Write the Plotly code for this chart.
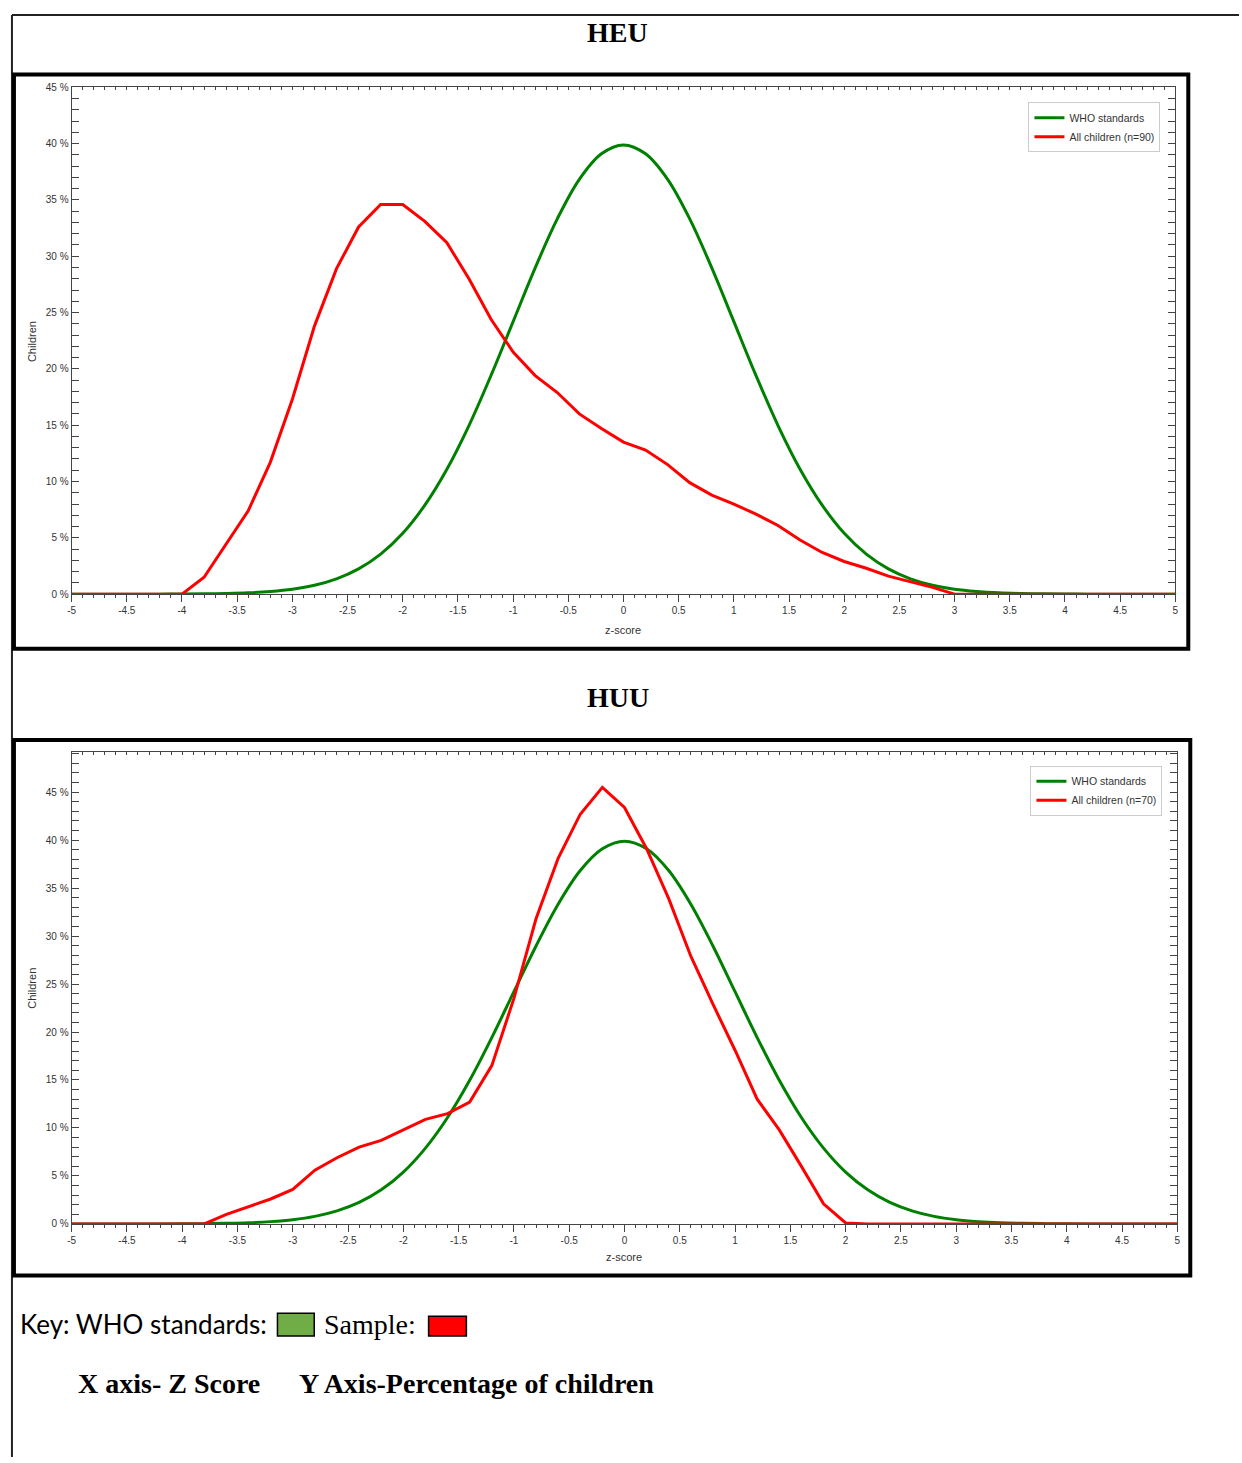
import plotly.graph_objects as go

W, H = 1242, 1463

# ---------------- data ----------------
z_who = [round(-5 + 0.2 * i, 1) for i in range(51)]
who_pct = [0, 0, 0, 0, 0, 0.01, 0.03, 0.06, 0.12, 0.24, 0.44, 0.79, 1.36, 2.24, 3.55, 5.40, 7.90,
           11.09, 14.97, 19.42, 24.20, 28.97, 33.32, 36.83, 39.10, 39.89, 39.10, 36.83, 33.32,
           28.97, 24.20, 19.42, 14.97, 11.09, 7.90, 5.40, 3.55, 2.24, 1.36, 0.79, 0.44, 0.24,
           0.12, 0.06, 0.03, 0.01, 0, 0, 0, 0, 0]

z_sample = [round(-5 + 0.2 * i, 1) for i in range(51)]
heu_pct = [0, 0, 0, 0, 0, 0, 1.5, 4.4, 7.4, 11.7, 17.3, 23.8, 28.9, 32.6, 34.6, 34.6, 33.1,
           31.2, 28.0, 24.4, 21.5, 19.4, 17.9, 16.0, 14.7, 13.5, 12.8, 11.5, 9.9, 8.8, 8.0, 7.1,
           6.1, 4.8, 3.7, 2.9, 2.3, 1.6, 1.1, 0.6, 0, 0, 0, 0, 0, 0, 0, 0, 0, 0, 0]
huu_pct = [0, 0, 0, 0, 0, 0, 0, 1.0, 1.8, 2.6, 3.6, 5.6, 6.9, 8.0, 8.7, 9.8, 10.9, 11.5, 12.7,
           16.5, 23.5, 31.8, 38.1, 42.7, 45.5, 43.4, 39.1, 33.9, 27.9, 22.9, 18.1, 13.0, 9.8,
           6.0, 2.1, 0.1, 0, 0, 0, 0, 0, 0, 0, 0, 0, 0, 0, 0, 0, 0, 0]

x_tickvals = [-5, -4.5, -4, -3.5, -3, -2.5, -2, -1.5, -1, -0.5, 0, 0.5, 1, 1.5, 2, 2.5, 3, 3.5, 4, 4.5, 5]
x_ticktext = ["-5", "-4.5", "-4", "-3.5", "-3", "-2.5", "-2", "-1.5", "-1", "-0.5", "0", "0.5",
              "1", "1.5", "2", "2.5", "3", "3.5", "4", "4.5", "5"]
y_tickvals = [0, 5, 10, 15, 20, 25, 30, 35, 40, 45]
y_ticktext = ["0 %", "5 %", "10 %", "15 %", "20 %", "25 %", "30 %", "35 %", "40 %", "45 %"]

GREEN = "#008000"
RED = "#ff0000"


def px(x):
    return x / W


def py(y):
    return 1 - y / H


fig = go.Figure()

# top panel (HEU)
fig.add_trace(go.Scatter(x=z_who, y=who_pct, mode="lines", name="WHO standards",
                         line=dict(color=GREEN, width=3, shape="spline"),
                         xaxis="x", yaxis="y", legend="legend"))
fig.add_trace(go.Scatter(x=z_sample, y=heu_pct, mode="lines", name="All children (n=90)",
                         line=dict(color=RED, width=3),
                         xaxis="x", yaxis="y", legend="legend"))
# bottom panel (HUU)
fig.add_trace(go.Scatter(x=z_who, y=who_pct, mode="lines", name="WHO standards",
                         line=dict(color=GREEN, width=3, shape="spline"),
                         xaxis="x2", yaxis="y2", legend="legend2"))
fig.add_trace(go.Scatter(x=z_sample, y=huu_pct, mode="lines", name="All children (n=70)",
                         line=dict(color=RED, width=3),
                         xaxis="x2", yaxis="y2", legend="legend2"))
# dummy traces for top tick axes
fig.add_trace(go.Scatter(x=[None], y=[None], xaxis="x3", yaxis="y", showlegend=False, hoverinfo="skip"))
fig.add_trace(go.Scatter(x=[None], y=[None], xaxis="x4", yaxis="y2", showlegend=False, hoverinfo="skip"))

tickfont = dict(family="Liberation Sans, Arial, sans-serif", size=10, color="#333333")
AX = "#444444"


def xaxis_cfg(dom, anchor):
    return dict(domain=dom, anchor=anchor, range=[-5, 5], tickmode="array",
                tickvals=x_tickvals, ticktext=x_ticktext, ticks="outside", ticklen=7,
                tickwidth=1, tickcolor=AX, showline=True, linecolor=AX, linewidth=1,
                showgrid=False, zeroline=False, tickfont=tickfont,
                minor=dict(tickmode="linear", tick0=0, dtick=0.1, ticks="outside",
                           ticklen=3, tickcolor=AX, showgrid=False))


def xtop_cfg(dom, anchor, over):
    return dict(domain=dom, anchor=anchor, overlaying=over, side="top", range=[-5, 5],
                tickmode="array", tickvals=x_tickvals, ticktext=[""] * len(x_tickvals),
                showticklabels=False, ticks="inside", ticklen=7, tickcolor=AX,
                showline=True, linecolor=AX, linewidth=1, showgrid=False, zeroline=False,
                minor=dict(tickmode="linear", tick0=0, dtick=0.1, ticks="inside",
                           ticklen=3, tickcolor=AX, showgrid=False))


def yaxis_cfg(dom, anchor, rng):
    return dict(domain=dom, anchor=anchor, range=rng, tickmode="array",
                tickvals=y_tickvals, ticktext=y_ticktext, ticks="inside", ticklen=7,
                tickcolor=AX, showline=True, linecolor=AX, linewidth=1, mirror="allticks",
                showgrid=False, zeroline=False, tickfont=tickfont,
                minor=dict(tickmode="linear", tick0=0, dtick=1, ticks="inside",
                           ticklen=3, tickcolor=AX, showgrid=False))


top_x = [px(68), px(1178)]
top_y = [py(593), py(82)]
bot_x = [px(68), px(1180)]
bot_y = [py(1228), py(752)]

legend_font = dict(family="Liberation Sans, Arial, sans-serif", size=10.5, color="#333333")

fig.update_layout(
    width=W, height=H,
    margin=dict(l=0, r=0, t=0, b=0),
    paper_bgcolor="white", plot_bgcolor="white",
    xaxis=xaxis_cfg(top_x, "y"),
    yaxis=yaxis_cfg(top_y, "x", [0, 45]),
    xaxis2=xaxis_cfg(bot_x, "y2"),
    yaxis2=yaxis_cfg(bot_y, "x2", [0, 49.2]),
    xaxis3=xtop_cfg(top_x, "y", "x"),
    xaxis4=xtop_cfg(bot_x, "y2", "x2"),
    legend=dict(x=px(1163), y=py(97), xanchor="right", yanchor="top",
                bgcolor="white", bordercolor="#cccccc", borderwidth=1, font=legend_font,
                itemwidth=30),
    legend2=dict(x=px(1165), y=py(766), xanchor="right", yanchor="top",
                 bgcolor="white", bordercolor="#cccccc", borderwidth=1, font=legend_font,
                 itemwidth=30),
    showlegend=True,
)

shapes = [
    # outer thin frame
    dict(type="line", xref="paper", yref="paper", x0=px(8), x1=px(1242), y0=py(9), y1=py(9),
         line=dict(color="#222222", width=2)),
    dict(type="line", xref="paper", yref="paper", x0=px(8), x1=px(8), y0=py(9), y1=py(1463),
         line=dict(color="#222222", width=2)),
    # thick boxes
    dict(type="rect", xref="paper", yref="paper", x0=px(10), x1=px(1191), y0=py(69), y1=py(648),
         line=dict(color="black", width=4)),
    dict(type="rect", xref="paper", yref="paper", x0=px(10), x1=px(1193), y0=py(740), y1=py(1280),
         line=dict(color="black", width=4)),
    # key boxes
    dict(type="rect", xref="paper", yref="paper", x0=px(275), x1=px(312), y0=py(1318), y1=py(1341),
         fillcolor="#70ad47", line=dict(color="black", width=1.5)),
    dict(type="rect", xref="paper", yref="paper", x0=px(427), x1=px(465), y0=py(1321), y1=py(1341),
         fillcolor="#ff0000", line=dict(color="black", width=1.5)),
]

ann_font_small = dict(family="Liberation Sans, Arial, sans-serif", size=11, color="#333333")
serif_bold = dict(family="Liberation Serif, Times New Roman, serif", size=28, color="black")

annotations = [
    dict(text="<b>HEU</b>", x=px(617), y=py(27), xanchor="center", yanchor="middle", font=serif_bold),
    dict(text="<b>HUU</b>", x=px(617), y=py(697), xanchor="center", yanchor="middle", font=serif_bold),
    dict(text="z-score", x=px(623), y=py(629), xanchor="center", yanchor="middle", font=ann_font_small),
    dict(text="z-score", x=px(624), y=py(1261), xanchor="center", yanchor="middle", font=ann_font_small),
    dict(text="Children", x=px(28), y=py(338), xanchor="center", yanchor="middle", textangle=-90,
         font=ann_font_small),
    dict(text="Children", x=px(28), y=py(990), xanchor="center", yanchor="middle", textangle=-90,
         font=ann_font_small),
    dict(text="Key: WHO standards:", x=px(14), y=py(1329), xanchor="left", yanchor="middle",
         font=dict(family="Lato, Liberation Sans, sans-serif", size=26, color="black")),
    dict(text="Sample:", x=px(320), y=py(1329), xanchor="left", yanchor="middle",
         font=dict(family="Liberation Serif, Times New Roman, serif", size=28, color="black")),
    dict(text="<b>X axis- Z Score</b>", x=px(72), y=py(1389), xanchor="left", yanchor="middle",
         font=serif_bold),
    dict(text="<b>Y Axis-Percentage of children</b>", x=px(295), y=py(1389), xanchor="left",
         yanchor="middle", font=serif_bold),
]
for a in annotations:
    a.update(xref="paper", yref="paper", showarrow=False)

fig.update_layout(shapes=shapes, annotations=annotations)

fig.write_html("out.html",
               config=dict(displayModeBar=False),
               post_script="document.body.style.margin='0';document.body.style.padding='0';"
                           "document.documentElement.style.overflow='hidden';")
